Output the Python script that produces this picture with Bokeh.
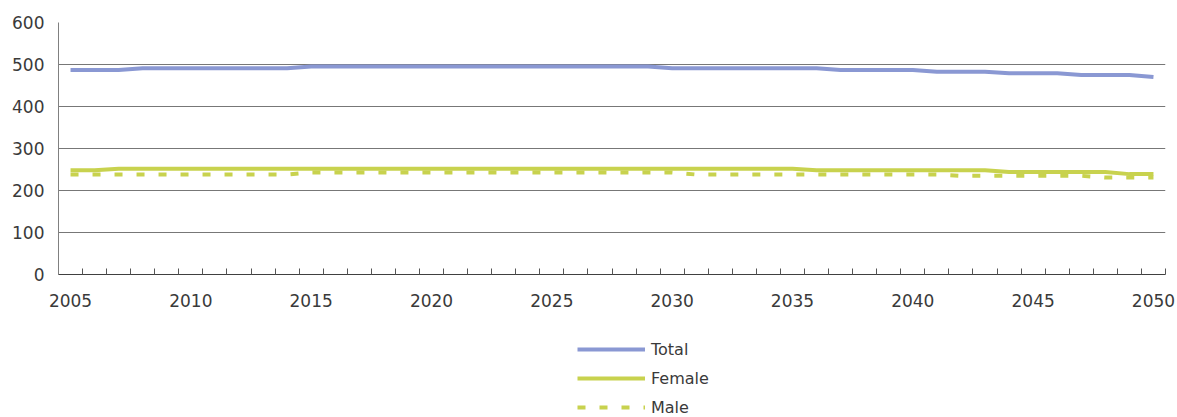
from bokeh.plotting import figure
from bokeh.layouts import column
from bokeh.models import Range1d, FixedTicker, Legend, LegendItem
from bokeh.embed import file_html
from bokeh.resources import INLINE

# Projected population (thousands), 2005-2050
years = list(range(2005, 2051))
total = [487, 487, 487,
         491, 491, 491, 491, 491, 491, 491,
         495, 495, 495, 495, 495, 495, 495, 495, 495, 495, 495, 495, 495, 495, 495,
         491, 491, 491, 491, 491, 491, 491,
         487, 487, 487, 487,
         483, 483, 483,
         479, 479, 479,
         475, 475, 475,
         470]
female = [248, 248,
          252, 252, 252, 252, 252, 252, 252, 252, 252, 252, 252, 252, 252, 252, 252,
          252, 252, 252, 252, 252, 252, 252, 252, 252, 252, 252, 252, 252, 252,
          248, 248, 248, 248, 248, 248, 248, 248,
          244, 244, 244, 244, 244,
          239, 239]
male = [238, 238, 238, 238, 238, 238, 238, 238, 238, 238,
        243, 243, 243, 243, 243, 243, 243, 243, 243, 243, 243, 243, 243, 243, 243, 243,
        238, 238, 238, 238, 238, 238, 238, 238, 238, 238, 238,
        235, 235, 235, 235, 235, 235,
        231, 231, 231]
series_names = ["Total", "Female", "Male"]
y_ticks = [0, 100, 200, 300, 400, 500, 600]
x_label_years = [2005, 2010, 2015, 2020, 2025, 2030, 2035, 2040, 2045, 2050]

BLUE = "#8a98d3"
GREEN = "#c8d24e"
TEXT = "#3a3a3a"
FONT = "DejaVu Sans"
STYLES = [dict(line_color=BLUE, line_width=4, line_join="round"),
          dict(line_color=GREEN, line_width=4, line_join="round"),
          dict(line_color=GREEN, line_width=4, line_dash="8 14")]

# ---- main chart -------------------------------------------------------
p = figure(width=1177, height=318, output_backend="svg", toolbar_location=None,
           x_range=Range1d(years[0] - 0.5, years[-1] + 0.5),
           y_range=Range1d(y_ticks[0], y_ticks[-1]),
           min_border_left=58, min_border_right=12,
           min_border_top=22, min_border_bottom=44)
p.outline_line_color = None

for values, style in zip([total, female, male], STYLES):
    p.line(years, values, **style)

# x axis: year labels every five years, small inward ticks between years
boundaries = [y - 0.5 for y in years] + [years[-1] + 0.5]
xa = p.xaxis[0]
xa.ticker = FixedTicker(ticks=x_label_years, minor_ticks=boundaries)
xa.major_tick_in = 0
xa.major_tick_out = 0
xa.minor_tick_in = 6
xa.minor_tick_out = 0
xa.minor_tick_line_color = "#555555"
xa.axis_line_color = "#404040"
xa.major_label_text_font = FONT
xa.major_label_text_font_size = "17px"
xa.major_label_text_color = TEXT
xa.major_label_standoff = 19

ya = p.yaxis[0]
ya.ticker = FixedTicker(ticks=y_ticks, minor_ticks=[])
ya.major_tick_in = 0
ya.major_tick_out = 0
ya.axis_line_color = "#808080"
ya.major_label_text_font = FONT
ya.major_label_text_font_size = "17px"
ya.major_label_text_color = TEXT
ya.major_label_standoff = 14

p.xgrid.visible = False
p.ygrid.grid_line_color = "#777777"
p.ygrid.grid_line_width = 1

# ---- legend strip under the chart ------------------------------------
# The series are drawn again here only so the legend has renderers to
# sample; the strip's ranges keep the lines themselves out of view.
lg = figure(width=1177, height=99, output_backend="svg", toolbar_location=None,
            x_range=Range1d(0, 1), y_range=Range1d(0, 1),
            x_axis_type=None, y_axis_type=None,
            min_border_left=58, min_border_right=12,
            min_border_top=0, min_border_bottom=0)
lg.outline_line_color = None
lg.grid.visible = False

items = []
for name, values, style in zip(series_names, [total, female, male], STYLES):
    r = lg.line(years, values, **style)
    items.append(LegendItem(label=name, renderers=[r]))

legend = Legend(items=items, location=(519, 0), orientation="vertical",
                glyph_width=68, glyph_height=20, label_height=20,
                label_standoff=6, spacing=9, padding=0, margin=0,
                border_line_color=None, background_fill_alpha=0,
                label_text_font=FONT, label_text_font_size="16px",
                label_text_color=TEXT)
lg.add_layout(legend, "center")

layout = column(p, lg, spacing=0)
open("out.html", "w").write(file_html(layout, INLINE))
